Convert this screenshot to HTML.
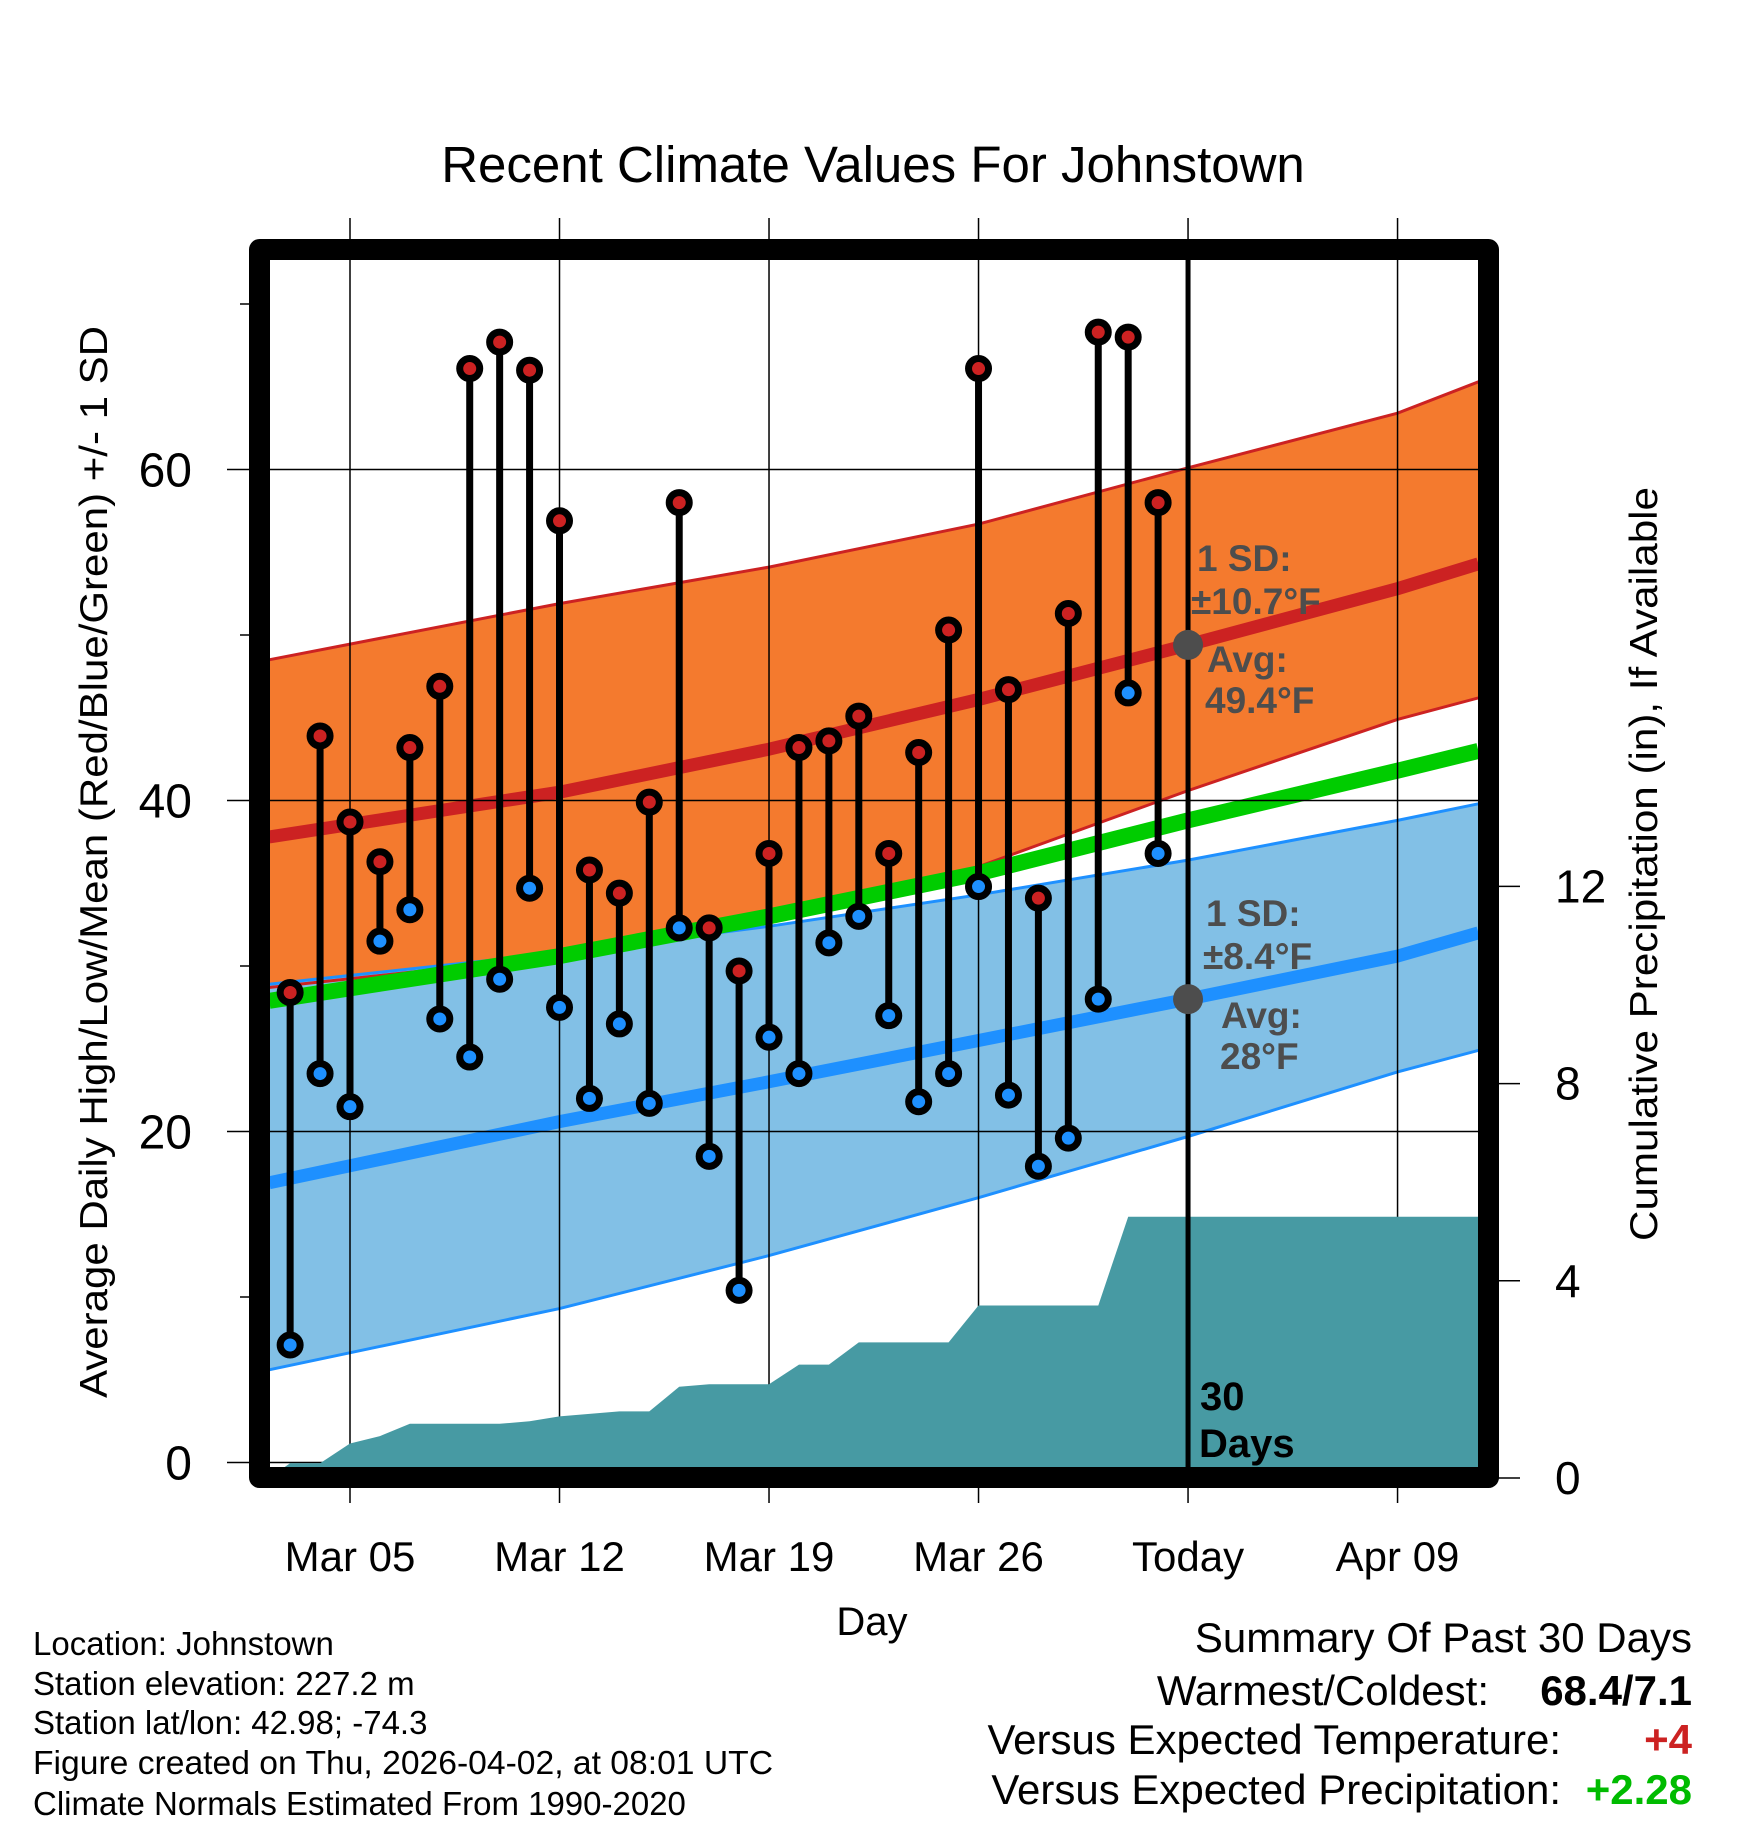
<!DOCTYPE html>
<html><head><meta charset="utf-8"><style>
html,body{margin:0;padding:0;background:#fff;}
svg{display:block;font-family:"Liberation Sans",sans-serif;}
</style></head><body>
<svg id="chart" width="1748" height="1828" viewBox="0 0 1748 1828" xmlns="http://www.w3.org/2000/svg">
<defs><clipPath id="plotClip"><rect x="270" y="260" width="1208" height="1208"/></clipPath></defs>
<text x="873" y="182" font-size="51" text-anchor="middle">Recent Climate Values For Johnstown</text>
<g id="bg" clip-path="url(#plotClip)"></g>
<g id="grid"></g>
<g id="fg" clip-path="url(#plotClip)"></g>
<g id="marks"></g>
<rect x="259.5" y="249.5" width="1229" height="1228" fill="none" stroke="#000" stroke-width="21" stroke-linejoin="round"/>
<g id="axes"></g>
<text x="872" y="1635" font-size="40" text-anchor="middle">Day</text>
<text transform="translate(107,862) rotate(-90)" font-size="39" text-anchor="middle" textLength="1072" lengthAdjust="spacingAndGlyphs">Average Daily High/Low/Mean (Red/Blue/Green) +/- 1 SD</text>
<text transform="translate(1657,864) rotate(-90)" font-size="39" text-anchor="middle" textLength="754" lengthAdjust="spacingAndGlyphs">Cumulative Precipitation (in), If Available</text>
<g font-weight="bold" font-size="37" fill="#4d4d4d">
<text x="1197" y="571">1 SD:</text>
<text x="1191" y="614">±10.7°F</text>
<text x="1207" y="672">Avg:</text>
<text x="1205" y="713">49.4°F</text>
<text x="1206" y="926">1 SD:</text>
<text x="1203" y="969">±8.4°F</text>
<text x="1221" y="1028">Avg:</text>
<text x="1220" y="1069">28°F</text>
</g>
<g font-weight="bold" font-size="40" fill="#000">
<text x="1200" y="1410">30</text><text x="1199" y="1457">Days</text>
</g>
<g font-size="33" fill="#000">
<text x="33" y="1655">Location: Johnstown</text>
<text x="33" y="1695">Station elevation: 227.2 m</text>
<text x="33" y="1734">Station lat/lon: 42.98; -74.3</text>
<text x="33" y="1774" textLength="740" lengthAdjust="spacingAndGlyphs">Figure created on Thu, 2026-04-02, at 08:01 UTC</text>
<text x="33" y="1815">Climate Normals Estimated From 1990-2020</text>
</g>
<g font-size="42" fill="#000">
<text x="1692" y="1652" text-anchor="end">Summary Of Past 30 Days</text>
<text x="1489" y="1705" text-anchor="end">Warmest/Coldest:</text>
<text x="1692" y="1705" text-anchor="end" font-weight="bold">68.4/7.1</text>
<text x="1561" y="1754" text-anchor="end">Versus Expected Temperature:</text>
<text x="1692" y="1754" text-anchor="end" font-weight="bold" fill="#cc2222">+4</text>
<text x="1561" y="1804" text-anchor="end">Versus Expected Precipitation:</text>
<text x="1692" y="1804" text-anchor="end" font-weight="bold" fill="#00bb00">+2.28</text>
</g>
</svg>
<script>
// Observed data (day of March; Apr 1 = 32)
const obsDays = [3,4,5,6,7,8,9,10,11,12,13,14,15,16,17,18,19,20,21,22,23,24,25,26,27,28,29,30,31,32];
const highs = [28.4,43.9,38.7,36.3,43.2,46.9,66.1,67.7,66.0,56.9,35.8,34.4,39.9,58.0,32.3,29.7,36.8,43.2,43.6,45.1,36.8,42.9,50.3,66.1,46.7,34.1,51.3,68.3,68.0,58.0];
const lows = [7.1,23.5,21.5,31.5,33.4,26.8,24.5,29.2,34.7,27.5,22.0,26.5,21.7,32.3,18.5,10.4,25.7,23.5,31.4,33.0,27.0,21.8,23.5,34.8,22.2,17.9,19.6,28.0,46.5,36.8];
const precip = [0.3,0.3,0.7,0.85,1.1,1.1,1.1,1.1,1.15,1.25,1.3,1.35,1.35,1.85,1.9,1.9,1.9,2.3,2.3,2.75,2.75,2.75,2.75,3.5,3.5,3.5,3.5,3.5,5.3,5.3];
// Normals at knot days
const normDays = [2.3,12,19,26,33,40,42.7];
const redMean = [37.8,40.5,43.1,46.1,49.4,52.8,54.3];
const redUpper = [48.5,51.9,54.1,56.7,60.1,63.4,65.3];
const redLower = [28.7,30.6,33.0,36.0,40.6,44.9,46.2];
const blueMean = [16.9,20.6,23.0,25.5,28.0,30.6,32.0];
const blueUpper = [28.9,30.8,32.4,34.3,36.4,38.8,39.8];
const blueLower = [5.6,9.3,12.5,16.0,19.7,23.6,24.9];
const greenMean = [27.9,30.6,33.0,35.6,38.8,41.8,43.0];
const xTickDays = [5,12,19,26,33,40];
const xTickLabels = ["Mar 05","Mar 12","Mar 19","Mar 26","Today","Apr 09"];
const yTicks = [0,20,40,60];
const yMinor = [10,30,50,70];
const y2Ticks = [0,4,8,12];
const todayDay = 33;

const NS="http://www.w3.org/2000/svg";
const X = d => 350 + (d-5)*29.93;
const Y = v => 1462.5 - v*16.55;
const Y2 = p => 1478 - p*49.3;
function mk(tag, attrs, parent){const e=document.createElementNS(NS,tag);for(const k in attrs)e.setAttribute(k,attrs[k]);parent.appendChild(e);return e;}
const bg=document.getElementById('bg'), grid=document.getElementById('grid'), fg=document.getElementById('fg'), marks=document.getElementById('marks'), axes=document.getElementById('axes');
const pts = arr => arr.map((v,i)=>X(normDays[i]).toFixed(1)+','+Y(v).toFixed(1));
function band(up,lo,fill,name){
  const p=mk('polygon',{points:pts(up).concat(pts(lo).reverse()).join(' '),fill:fill},bg);
  
  
}
function line(arr,color,w,name,parent){
  const p=mk('polyline',{points:pts(arr).join(' '),fill:'none',stroke:color,'stroke-width':w},parent||bg);
  
  
}
band(redUpper,redLower,'#f47a2e','high-sd-band');
band(blueUpper,blueLower,'#82c0e6','low-sd-band');
line(redUpper,'#cc2222',3,'high-upper-line');
line(redLower,'#cc2222',3,'high-lower-line');
line(redMean,'#cc2222',13,'high-mean-line');
line(blueUpper,'#1e90ff',3,'low-upper-line');
line(blueLower,'#1e90ff',3,'low-lower-line');
line(blueMean,'#1e90ff',13,'low-mean-line');
line(greenMean,'#00cc00',16,'mean-line');

xTickDays.forEach(d=>{
  const l=mk('line',{x1:X(d),x2:X(d),y1:218,y2:1503,stroke:'#000','stroke-width':1.5},grid);
  
  
});
yTicks.forEach(v=>{
  const l=mk('line',{x1:227,x2:1478,y1:Y(v),y2:Y(v),stroke:'#000','stroke-width':1.5},grid);
  
  
});

let pp=[X(2.3)+','+Y2(0)];
obsDays.forEach((d,i)=>pp.push(X(d).toFixed(1)+','+Y2(precip[i]).toFixed(1)));
pp.push('1480,'+Y2(precip[precip.length-1]).toFixed(1));
pp.push('1480,1480'); pp.push('270,1480');
const area=mk('polygon',{points:pp.join(' '),fill:'#479aa3'},fg);



const tl=mk('line',{x1:X(todayDay),x2:X(todayDay),y1:260,y2:1468,stroke:'#000','stroke-width':5},fg);


[[redMean,'high-avg-dot'],[blueMean,'low-avg-dot']].forEach(([arr,n])=>{
  const v=arr[4];
  const c=mk('circle',{cx:X(todayDay),cy:Y(v),r:15,fill:'#4d4d4d'},fg);
  
  
});

obsDays.forEach((d,i)=>{
  const s=mk('line',{x1:X(d),x2:X(d),y1:Y(highs[i]),y2:Y(lows[i]),stroke:'#000','stroke-width':7},marks);
  
  
});
obsDays.forEach((d,i)=>{
  const h=mk('circle',{cx:X(d),cy:Y(highs[i]),r:10,fill:'#cc2222',stroke:'#000','stroke-width':7},marks);
  
  
  const l=mk('circle',{cx:X(d),cy:Y(lows[i]),r:10,fill:'#1e90ff',stroke:'#000','stroke-width':7},marks);
  
  
});

xTickDays.forEach((d,i)=>{
  const t=mk('text',{x:X(d),y:1571,'font-size':42,'text-anchor':'middle'},axes);
  t.textContent=xTickLabels[i];
  
  
});
yTicks.forEach(v=>{
  const t=mk('text',{x:192,y:Y(v)+17,'font-size':48,'text-anchor':'end'},axes);
  t.textContent=String(v);
  
  
});
yMinor.forEach(v=>{
  const l=mk('line',{x1:240,x2:250,y1:Y(v),y2:Y(v),stroke:'#000','stroke-width':1.5},axes);
  
  
});
y2Ticks.forEach(p=>{
  const l=mk('line',{x1:1498,x2:1520,y1:Y2(p),y2:Y2(p),stroke:'#000','stroke-width':1.5},axes);
  
  
  const t=mk('text',{x:1555,y:Y2(p)+16,'font-size':46},axes);
  t.textContent=String(p);
  
  
});
</script>
</body></html>
